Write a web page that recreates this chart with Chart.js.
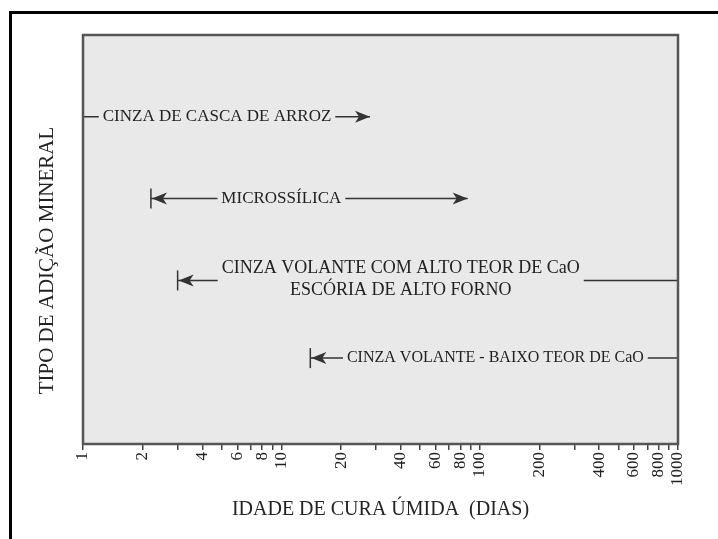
<!DOCTYPE html>
<html>
<head>
<meta charset="utf-8">
<script src="https://cdn.jsdelivr.net/npm/chart.js@4"></script>
<style>
    html, body { margin: 0; padding: 0; background: #fff; }
    #wrap { position: relative; width: 718px; height: 539px; }
    #frame { position: absolute; left: 9px; top: 11px; right: 0; bottom: 0;
             border-left: 3px solid #000; border-top: 3px solid #000; pointer-events: none; }
</style>
</head>
<body>
<div id="wrap">
    <canvas id="myChart" width="718" height="539"></canvas>
    <div id="frame"></div>
</div>
<script>
// Materials from top to bottom, and the curing age range (days) of each
const materials = [
    ['CINZA DE CASCA DE ARROZ'],
    ['MICROSSÍLICA'],
    ['CINZA VOLANTE COM ALTO TEOR DE CaO', 'ESCÓRIA DE ALTO FORNO'],
    ['CINZA VOLANTE - BAIXO TEOR DE CaO']
];
const rowLevel = [4, 3, 2, 1.05];
const startDays = [1, 2.2, 3, 14];
const endDays = [28, 87, 1000, 1000];
const labelDays = [4.74, 10, 40, 120];   // where each label sits on the age axis

// x axis
const tickValues = [1, 2, 3, 4, 5, 6, 7, 8, 9, 10, 20, 30, 40, 50, 60, 70, 80, 90, 100,
                    200, 300, 400, 500, 600, 700, 800, 900, 1000];
const tickLabels = [1, 2, 4, 6, 8, 10, 20, 40, 60, 80, 100, 200, 400, 600, 800, 1000];

const FONT = 'Liberation Serif, Times New Roman, serif';
const INK = '#222';
const PLOT_BG = '#e9e9e9';

// which ends get an arrow head / a stop bar
const arrowAtStart = [false, true, true, true];
const arrowAtEnd = [true, true, false, false];
const barAtStart = [false, true, true, true];
// label text sizes (the scan is not uniform)
const labelSize = [17, 17, 18, 16];

const datasets = materials.map((m, i) => ({
    label: m.join(' '),
    data: [{ x: startDays[i], y: rowLevel[i] }, { x: endDays[i], y: rowLevel[i] }],
    borderColor: '#333',
    borderWidth: 1.5,
    pointStyle: 'line',
    rotation: 90,
    pointBorderColor: '#333',
    pointBorderWidth: 1.5,
    pointRadius: [barAtStart[i] ? 10 : 0, 0],
    pointHoverRadius: 0
}));

// plot background + frame
const frame = {
    id: 'frame',
    beforeDraw(chart) {
        const a = chart.chartArea, ctx = chart.ctx;
        ctx.save();
        ctx.fillStyle = PLOT_BG;
        ctx.fillRect(a.left, a.top, a.right - a.left, a.bottom - a.top);
        ctx.restore();
    },
    afterDraw(chart) {
        const a = chart.chartArea, ctx = chart.ctx;
        ctx.save();
        ctx.strokeStyle = '#555';
        ctx.lineWidth = 2.5;
        ctx.strokeRect(a.left, a.top, a.right - a.left, a.bottom - a.top);
        ctx.restore();
    }
};

// labels sitting on the lines, and arrow heads
const annotations = {
    id: 'annotations',
    afterDatasetsDraw(chart) {
        const ctx = chart.ctx, xs = chart.scales.x, ys = chart.scales.y;
        ctx.save();
        ctx.textAlign = 'center';
        ctx.textBaseline = 'middle';
        materials.forEach((lines, i) => {
            ctx.font = labelSize[i] + 'px ' + FONT;
            const cx = xs.getPixelForValue(labelDays[i]);
            const cy = ys.getPixelForValue(rowLevel[i]);
            const w = Math.max(...lines.map(t => ctx.measureText(t).width));
            ctx.fillStyle = PLOT_BG;
            ctx.fillRect(cx - w / 2 - 4, cy - 4, w + 8, 8);
            ctx.fillStyle = INK;
            if (lines.length === 1) {
                ctx.fillText(lines[0], cx, cy);
            } else {
                ctx.fillText(lines[0], cx, cy - 12);
                ctx.fillText(lines[1], cx, cy + 10);
            }
            const meta = chart.getDatasetMeta(i).data;
            const p0 = meta[0], p1 = meta[1];
            ctx.fillStyle = '#333';
            if (arrowAtStart[i]) head(ctx, p0.x + 1, p0.y, -1);
            if (arrowAtEnd[i]) head(ctx, p1.x, p1.y, 1);
        });
        ctx.restore();
    }
};

function head(ctx, x, y, dir) {
    ctx.beginPath();
    ctx.moveTo(x, y);
    ctx.lineTo(x - dir * 15, y - 6);
    ctx.lineTo(x - dir * 11, y);
    ctx.lineTo(x - dir * 15, y + 6);
    ctx.closePath();
    ctx.fill();
}

new Chart(document.getElementById('myChart'), {
    type: 'line',
    data: { datasets: datasets },
    options: {
        responsive: false,
        animation: false,
        layout: { padding: { left: 25, right: 40, top: 35, bottom: 15 } },
        plugins: { legend: { display: false }, tooltip: { enabled: false } },
        scales: {
            x: {
                type: 'logarithmic',
                min: 1,
                max: 1000,
                afterBuildTicks: s => { s.ticks = tickValues.map(v => ({ value: v })); },
                afterFit: s => { s.height = 80; },
                grid: { drawOnChartArea: false, tickLength: 6, color: '#444', lineWidth: 1.5 },
                border: { display: false },
                ticks: {
                    autoSkip: false,
                    minRotation: 90,
                    maxRotation: 90,
                    padding: 2,
                    color: INK,
                    font: { family: FONT, size: 17 },
                    callback: v => tickLabels.includes(v) ? String(v) : ''
                },
                title: {
                    display: true,
                    text: 'IDADE DE CURA ÚMIDA  (DIAS)',
                    color: INK,
                    font: { family: FONT, size: 20 },
                    padding: { top: 0, bottom: 2 }
                }
            },
            y: {
                type: 'linear',
                min: 0,
                max: 5,
                afterFit: s => { s.width = 58; },
                grid: { display: false },
                border: { display: false },
                ticks: { display: false },
                title: {
                    display: true,
                    text: 'TIPO DE ADIÇÃO MINERAL        ',
                    color: INK,
                    font: { family: FONT, size: 21 },
                    padding: { top: 10, bottom: 0 }
                }
            }
        }
    },
    plugins: [frame, annotations]
});
</script>
</body>
</html>
